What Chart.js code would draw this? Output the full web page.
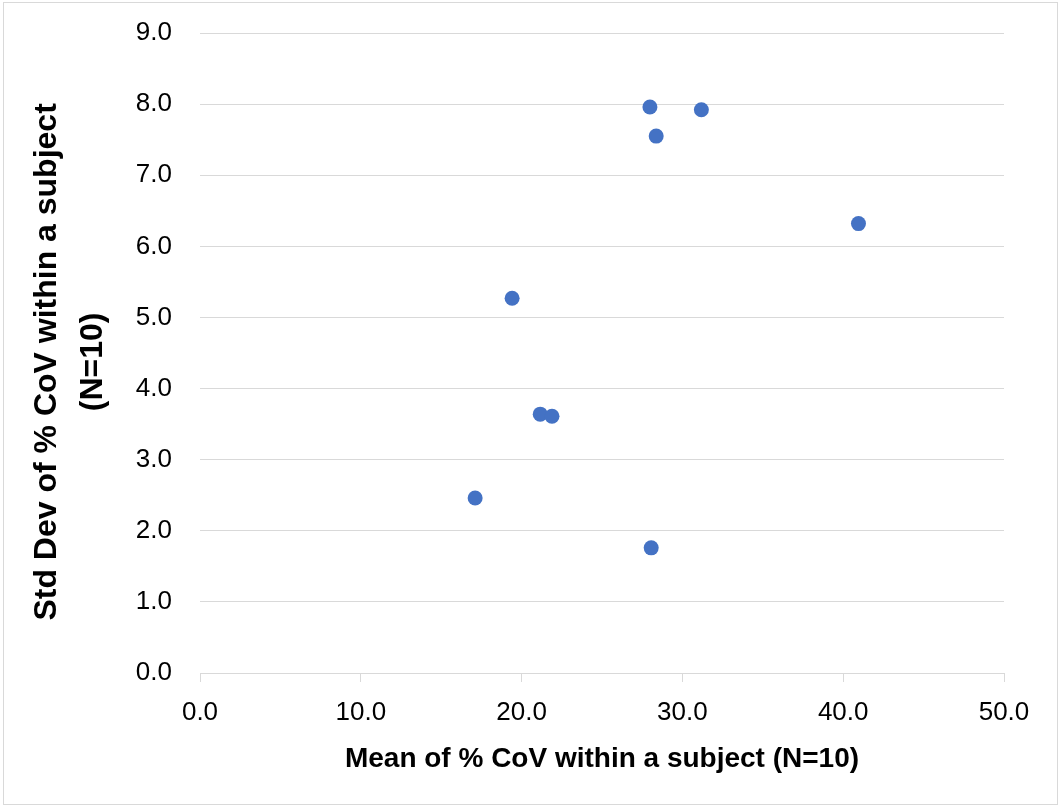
<!DOCTYPE html>
<html>
<head>
<meta charset="utf-8">
<script src="https://cdn.jsdelivr.net/npm/chart.js@4/dist/chart.umd.min.js"></script>
<style>
  html, body { margin: 0; padding: 0; background: #ffffff; }
  canvas { display: block; }
</style>
</head>
<body>
<canvas id="c" width="1061" height="807"></canvas>
<script>
// Data
const meanCoV = [27.98, 31.18, 28.37, 40.95, 19.41, 21.16, 21.89, 17.11, 28.06];
const sdCoV   = [7.96, 7.92, 7.55, 6.32, 5.27, 3.64, 3.61, 2.46, 1.76];
const xTitle = 'Mean of % CoV within a subject (N=10)';
const yTitle = ['Std Dev of % CoV within a subject  ', '(N=10)  '];
const xRange = [0, 50, 10];
const yRange = [0, 9, 1];

const points = meanCoV.map((x, i) => ({ x: x, y: sdCoV[i] }));

const frame = {
  id: 'frame',
  beforeDraw(chart) {
    const ctx = chart.ctx;
    ctx.save();
    ctx.fillStyle = '#ffffff';
    ctx.fillRect(0, 0, chart.width, chart.height);
    ctx.strokeStyle = '#d9d9d9';
    ctx.lineWidth = 1;
    ctx.strokeRect(3.5, 2.5, 1054, 802);
    ctx.restore();
  }
};

const FONT = "'Liberation Sans', Arial, sans-serif";

new Chart(document.getElementById('c'), {
  type: 'scatter',
  data: {
    datasets: [{
      data: points,
      backgroundColor: '#4472C4',
      borderColor: '#4472C4',
      pointRadius: 7.5,
      pointHoverRadius: 7.5,
      borderWidth: 0
    }]
  },
  options: {
    responsive: false,
    animation: false,
    devicePixelRatio: 1,
    layout: { padding: { left: 0, top: 33, right: 57, bottom: 0 } },
    plugins: { legend: { display: false }, tooltip: { enabled: false } },
    scales: {
      x: {
        type: 'linear',
        min: xRange[0], max: xRange[1],
        afterFit: (s) => { s.height = 134; },
        ticks: {
          stepSize: xRange[2],
          color: '#000000',
          font: { family: FONT, size: 26 },
          padding: 15,
          callback: (v) => Number(v).toFixed(1)
        },
        grid: { drawOnChartArea: false, drawTicks: true, tickLength: 9, color: '#d9d9d9', lineWidth: 1 },
        border: { display: true, color: '#d9d9d9', width: 1 },
        title: {
          display: true,
          text: xTitle,
          color: '#000000',
          font: { family: FONT, size: 28, weight: 'bold', lineHeight: 1.2 },
          padding: { top: 0, bottom: 31 }
        }
      },
      y: {
        type: 'linear',
        min: yRange[0], max: yRange[1],
        afterFit: (s) => { s.width = 200; },
        ticks: {
          stepSize: yRange[2],
          color: '#000000',
          font: { family: FONT, size: 26 },
          padding: 0,
          callback: (v) => Number(v).toFixed(1)
        },
        grid: { drawTicks: true, tickLength: 28, tickColor: 'rgba(0,0,0,0)', color: '#d9d9d9', lineWidth: 1 },
        border: { display: false },
        title: {
          display: true,
          text: yTitle,
          color: '#000000',
          font: { family: FONT, size: 32, weight: 'bold', lineHeight: 1.45 },
          padding: { top: 24, bottom: 0 }
        }
      }
    }
  },
  plugins: [frame]
});
</script>
</body>
</html>
